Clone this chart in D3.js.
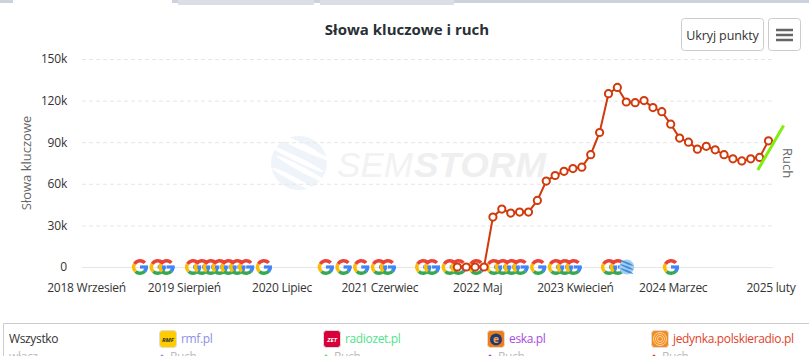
<!DOCTYPE html>
<html><head><meta charset="utf-8">
<script src="https://cdn.jsdelivr.net/npm/d3@7/dist/d3.min.js"></script>
<style>
html,body{margin:0;padding:0;background:#fff;overflow:hidden}
svg{display:block}
text{font-family:"Open Sans","Noto Sans",sans-serif}
</style></head><body><svg id="c" width="809" height="356"></svg>
<script>
const months=["2018 Wrzesień","2018 Październik","2018 Listopad","2018 Grudzień","2019 Styczeń","2019 Luty","2019 Marzec","2019 Kwiecień","2019 Maj","2019 Czerwiec","2019 Lipiec","2019 Sierpień","2019 Wrzesień","2019 Październik","2019 Listopad","2019 Grudzień","2020 Styczeń","2020 Luty","2020 Marzec","2020 Kwiecień","2020 Maj","2020 Czerwiec","2020 Lipiec","2020 Sierpień","2020 Wrzesień","2020 Październik","2020 Listopad","2020 Grudzień","2021 Styczeń","2021 Luty","2021 Marzec","2021 Kwiecień","2021 Maj","2021 Czerwiec","2021 Lipiec","2021 Sierpień","2021 Wrzesień","2021 Październik","2021 Listopad","2021 Grudzień","2022 Styczeń","2022 Luty","2022 Marzec","2022 Kwiecień","2022 Maj","2022 Czerwiec","2022 Lipiec","2022 Sierpień","2022 Wrzesień","2022 Październik","2022 Listopad","2022 Grudzień","2023 Styczeń","2023 Luty","2023 Marzec","2023 Kwiecień","2023 Maj","2023 Czerwiec","2023 Lipiec","2023 Sierpień","2023 Wrzesień","2023 Październik","2023 Listopad","2023 Grudzień","2024 Styczeń","2024 Luty","2024 Marzec","2024 Kwiecień","2024 Maj","2024 Czerwiec","2024 Lipiec","2024 Sierpień","2024 Wrzesień","2024 Październik","2024 Listopad","2024 Grudzień","2025 Styczeń","2025 luty"];
const xTickLabels=["2018 Wrzesień","2019 Sierpień","2020 Lipiec","2021 Czerwiec","2022 Maj","2023 Kwiecień","2024 Marzec","2025 luty"];
const yTicks=[0,30000,60000,90000,120000,150000];
const keywordMonths=months.slice(42);
const keywordValues=[0,0,0,0,36000,41800,38900,39600,39600,48000,62000,66000,69000,71000,72000,81000,97000,125000,129500,119000,118500,120000,115000,112000,103000,93000,90000,85000,87000,84500,81000,78000,76500,78000,79000,91000];
// monthly position (fractional) and value of the traffic line
const trafficPositions=[75.8,78.7];
const trafficValues=[70000,102000];
const googleUpdates=[6,8,9,12,13,14,15,16,17,18,20,27,29,31,33,34,38,39,41,42,44,46,47,48,49,51,53,54,55,59,60,66];
const otherUpdates=[61];
const legendSites=["rmf.pl","radiozet.pl","eska.pl","jedynka.polskieradio.pl"];
const legendColors=["#8d8fe6","#4fe38a","#a94be3","#e0432c"];

const svg=d3.select("#c");
// top tab strip
[[0,13,3,"#cdd3de"],[172,637,3,"#cdd3de"],[178,136,5,"#dcdee5"],[320,134,5,"#dcdee5"]].forEach(r=>
  svg.append("rect").attr("x",r[0]).attr("y",0).attr("width",r[1]).attr("height",r[2]).attr("fill",r[3]));

const x=d3.scalePoint().domain(months).range([84,768.5]);
const xi=d3.scaleLinear().domain([0,months.length-1]).range([84,768.5]);
const xFlag=d3.scaleLinear().domain([6,66]).range([140,671]);
const y=d3.scaleLinear().domain([0,150000]).range([267,59]);

// watermark
const wm=svg.append("g");
const globe=wm.append("g").attr("transform","translate(299,163)");
const swirl=[[-6,-22,26,2,24],[6,-14,30,2.5,24],[-2,-4,30,2.5,26],[4,7,30,2.5,28],[-4,17,26,2.5,28]];
globe.append("ellipse").attr("rx",28).attr("ry",27).attr("fill","#eef4fa");
swirl.forEach(s=>globe.append("ellipse").attr("cx",s[0]).attr("cy",s[1]).attr("rx",s[2]).attr("ry",s[3]).attr("transform",`rotate(${s[4]} ${s[0]} ${s[1]})`).attr("fill","#fff"));
wm.append("text").attr("x",337).attr("y",177).attr("font-size",35).attr("font-style","italic").attr("fill","#f2f2f2").style("font-family","'Liberation Sans'").attr("textLength",76).attr("lengthAdjust","spacingAndGlyphs").text("SEM");
wm.append("text").attr("x",414).attr("y",177).attr("font-size",35).attr("font-style","italic").attr("font-weight",700).attr("fill","#efefef").style("font-family","'Liberation Sans'").attr("textLength",132).attr("lengthAdjust","spacingAndGlyphs").text("STORM");

// y axis with gridlines
const yAxis=svg.append("g").attr("transform","translate(82,0)")
  .call(d3.axisLeft(y).tickValues(yTicks).tickSize(-691).tickPadding(15).tickFormat(d=>d/1000+(d?"k":"")));
yAxis.select(".domain").remove();
yAxis.selectAll("line").attr("stroke","#e6e6e6").attr("stroke-dasharray",d=>d?"4,3":null);
yAxis.selectAll("text").attr("font-size",12).attr("letter-spacing",-0.2).attr("fill","#333");

// x axis
const xAxis=svg.append("g").attr("transform","translate(0,267)")
  .call(d3.axisBottom(x).tickValues(xTickLabels).tickSize(0).tickPadding(16));
xAxis.select(".domain").remove();
xAxis.selectAll("text").attr("font-size",12).attr("letter-spacing",-0.25).attr("fill","#333").attr("dx",2);

// titles
svg.append("text").attr("x",407).attr("y",35).attr("text-anchor","middle").attr("font-size",15).attr("font-weight",700).attr("fill","#2a2f36").text("Słowa kluczowe i ruch");
svg.append("text").attr("transform","translate(31,163) rotate(-90)").attr("text-anchor","middle").attr("font-size",13).attr("fill","#666").text("Słowa kluczowe");
svg.append("text").attr("transform","translate(783,163) rotate(90)").attr("text-anchor","middle").attr("font-size",13).attr("fill","#666").text("Ruch");

// Google update flags
const arc=d3.arc().innerRadius(4.6).outerRadius(8);
const deg=Math.PI/180;
function gIcon(g){
  [["#34a853",130,225],["#fbbc05",225,300],["#ea4335",300,410],["#4285f4",90,130]].forEach(p=>
    g.append("path").attr("d",arc({startAngle:p[1]*deg,endAngle:p[2]*deg})).attr("fill",p[0]));
  g.append("path").attr("d",arc({startAngle:85*deg,endAngle:130*deg})).attr("fill","#4285f4");
  g.append("rect").attr("x",0).attr("y",-1.6).attr("width",8).attr("height",3.2).attr("fill","#4285f4");
}
svg.append("g").selectAll("g").data(googleUpdates).join("g")
  .attr("transform",d=>`translate(${xFlag(d)},267)`).each(function(){gIcon(d3.select(this));});
// other update flag (swirl)
svg.append("g").selectAll("g").data(otherUpdates).join("g")
  .attr("transform",d=>`translate(${xFlag(d)},267)`).each(function(){
    const g=d3.select(this);
    g.append("circle").attr("r",7.5).attr("fill","#a9cdef");
    [-4,0,4].forEach(o=>g.append("ellipse").attr("cy",o).attr("rx",7).attr("ry",1).attr("transform",`rotate(22 0 ${o})`).attr("fill","#3f8fdc"));
  });

// keyword line
const kw=keywordMonths.map((m,i)=>({m,v:keywordValues[i]}));
svg.append("path").datum(kw).attr("fill","none").attr("stroke","#d13a0c").attr("stroke-width",2)
  .attr("d",d3.line().x(d=>x(d.m)).y(d=>y(d.v)));
svg.append("g").selectAll("circle").data(kw).join("circle")
  .attr("cx",d=>x(d.m)).attr("cy",d=>y(d.v)).attr("r",3.6).attr("fill","#fff").attr("stroke","#d13a0c").attr("stroke-width",2);

// traffic line
svg.append("path").datum(trafficPositions.map((p,i)=>({p,v:trafficValues[i]}))).attr("fill","none").attr("stroke","#80ee10").attr("stroke-width",3)
  .attr("d",d3.line().x(d=>xi(d.p)).y(d=>y(d.v)));

// buttons
function btn(xp,w){svg.append("rect").attr("x",xp+.5).attr("y",18.5).attr("width",w).attr("height",32).attr("rx",3).attr("fill","#fff").attr("stroke","#ccc");}
btn(681,82);btn(768,32);
svg.append("text").attr("x",722.5).attr("y",39.5).attr("text-anchor","middle").attr("font-size",12.5).attr("letter-spacing",-0.1).attr("fill","#333").text("Ukryj punkty");
[30,35,40].forEach(v=>svg.append("rect").attr("x",776).attr("y",v-1.25).attr("width",17).attr("height",2.5).attr("fill","#666"));

// legend
svg.append("path").attr("d","M3.5,356V323.5H809").attr("fill","none").attr("stroke","#ccc");
svg.append("text").attr("x",9).attr("y",343).attr("font-size",12).attr("letter-spacing",-0.35).attr("fill","#333").text("Wszystko");
svg.append("text").attr("x",9).attr("y",361).attr("font-size",12).attr("letter-spacing",-0.35).attr("fill","#bbb").text("włącz");
const iconX=[160,324,488,652];
const iconFill=["#ffcc00","#d9003a","#f57c14","#f58a1f"];
legendSites.forEach((s,i)=>{
  const g=svg.append("g").attr("transform",`translate(${iconX[i]},331)`);
  g.append("rect").attr("x",-.5).attr("y",-.5).attr("width",17).attr("height",17).attr("rx",3).attr("fill",iconFill[i]).attr("stroke","#ddd");
  if(i===0)g.append("text").attr("x",8).attr("y",11).attr("text-anchor","middle").attr("font-size",6).attr("font-weight",700).attr("font-style","italic").attr("fill","#333").text("RMF");
  if(i===1)g.append("text").attr("x",8).attr("y",11).attr("text-anchor","middle").attr("font-size",6).attr("font-weight",700).attr("font-style","italic").attr("fill","#fff").text("ZET");
  if(i===2){g.append("circle").attr("cx",8).attr("cy",8.5).attr("r",6).attr("fill","#1d3a78");g.append("text").attr("x",8).attr("y",12).attr("text-anchor","middle").attr("font-size",10).attr("font-weight",700).attr("fill","#f6a04a").text("e");}
  if(i===3){[6.5,4.5,2.5].forEach(r=>g.append("circle").attr("cx",8).attr("cy",8).attr("r",r).attr("fill","none").attr("stroke","#ffe0b0").attr("stroke-width",.9));}
  svg.append("text").attr("x",iconX[i]+21).attr("y",343).attr("font-size",12).attr("letter-spacing",-0.35).attr("fill",legendColors[i]).text(s);
  svg.append("circle").attr("cx",iconX[i]+2).attr("cy",356).attr("r",1.5).attr("fill",legendColors[i]);
  svg.append("text").attr("x",iconX[i]+10).attr("y",361).attr("font-size",12).attr("letter-spacing",-0.35).attr("fill","#bbb").text("Ruch");
});
</script></body></html>
